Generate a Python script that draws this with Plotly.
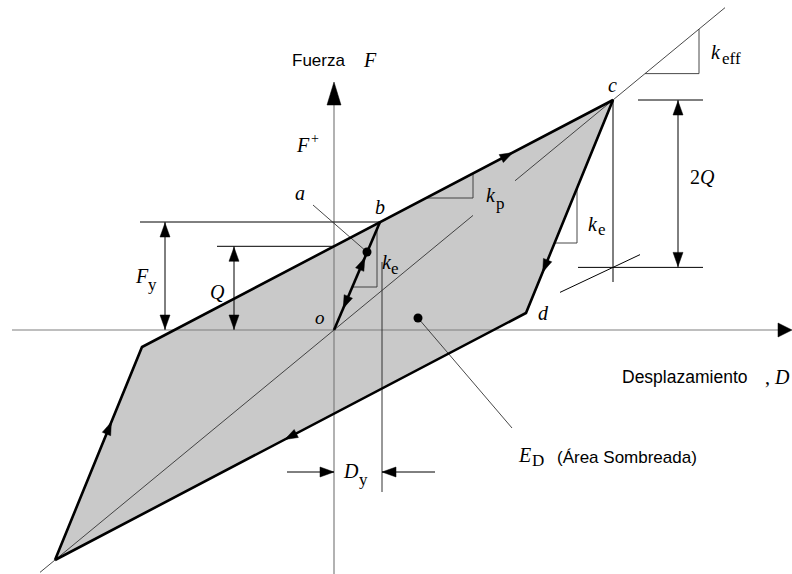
import numpy as np
import plotly.graph_objects as go

# ---- data: key points of the bilinear hysteresis loop (D, F); origin o = (0, 0)
point_names = ["o", "b", "c", "d"]
point_D = [0, 46, 279, 192]
point_F = [0, 108, 230, 17]

P = {n: (x, y) for n, x, y in zip(point_names, point_D, point_F)}
oD, oF = P["o"]
bD, bF = P["b"]
cD, cF = P["c"]
dD, dF = P["d"]

# loop path: -c -> -d -> c -> d -> -c
loop_D = [-cD, -dD, cD, dD, -cD]
loop_F = [-cF, -dF, cF, dF, -cF]

kp = (cF + dF) / (cD + dD)          # post-yield stiffness
ke_loop = (cF - dF) / (cD - dD)     # unloading stiffness
ke0 = bF / bD                       # initial stiffness
keff = cF / cD                      # effective stiffness
Q = -dF + dD * kp                   # characteristic strength
Fy = bF
Dy = bD

SERIF = "Liberation Serif"
SANS = "Liberation Sans"
fig = go.Figure()


def line(xs, ys, color="black", width=1.0):
    fig.add_trace(go.Scatter(x=list(xs), y=list(ys), mode="lines",
                             line=dict(color=color, width=width),
                             hoverinfo="skip", showlegend=False))


def head(tx, ty, ux, uy, L=13.0, W=4.5, color="black"):
    """filled arrowhead with tip at (tx,ty) pointing along (ux,uy)"""
    n = np.hypot(ux, uy)
    ux, uy = ux / n, uy / n
    bx, by = tx - ux * L, ty - uy * L
    px, py = -uy, ux
    fig.add_trace(go.Scatter(x=[tx, bx + px * W, bx - px * W, tx],
                             y=[ty, by + py * W, by - py * W, ty],
                             mode="lines", fill="toself", fillcolor=color,
                             line=dict(color=color, width=0.5),
                             hoverinfo="skip", showlegend=False))


def mid_head(x0, y0, x1, y1, t, L=13.0, W=4.5):
    ux, uy = x1 - x0, y1 - y0
    mx, my = x0 + ux * t, y0 + uy * t
    n = np.hypot(ux, uy)
    head(mx + ux / n * L / 2, my + uy / n * L / 2, ux, uy, L, W)


# ---- shaded loop area
fig.add_trace(go.Scatter(x=loop_D, y=loop_F, mode="lines", fill="toself",
                         fillcolor="#c9c9c9", line=dict(width=0),
                         hoverinfo="skip", showlegend=False))

# ---- axes
AX = "#7f7f7f"
line([-322, 446], [0, 0], AX, 1.2)
head(458, 0, 1, 0, L=14, W=7)
line([0, 0], [-244, 232], AX, 1.2)
head(0, 248, 0, 1, L=23, W=7)

# ---- effective stiffness line (with gap at k_p label)
line([-294, 139], [-294 * keff, 139 * keff], "#333333", 0.9)
line([181, 391], [181 * keff, 391 * keff], "#333333", 0.9)
# k_eff triangle
line([311, 365, 365], [311 * keff, 311 * keff, 365 * keff], "#333333", 0.9)

# ---- k_p triangle
yk = 132
xk = -dD + (yk + dF) / kp
line([xk, 139, 139], [yk, yk, -dF + (139 + dD) * kp], "#333333", 0.9)

# ---- k_e triangle at unloading branch
ye = 87
xe = cD - (cF - ye) / ke_loop
line([xe, 243, 243], [ye, ye, cF - (cD - 243) * ke_loop], "#333333", 0.9)

# ---- k_e triangle at initial branch
ys = 43
line([ys / ke0, 43, 43], [ys, ys, 43 * ke0], "#333333", 0.9)

# ---- F_y dimension
line([-dD - 2, bD], [Fy, Fy], "black", 1.0)
line([-169, -169], [0, Fy], "black", 1.0)
head(-169, Fy - 1, 0, 1, L=14, W=5)
head(-169, 1, 0, -1, L=14, W=5)

# ---- Q dimension
line([-117, 0], [Q, Q], "black", 1.0)
line([-100, -100], [0, Q], "black", 1.0)
head(-100, Q - 1, 0, 1, L=14, W=5)
head(-100, 1, 0, -1, L=14, W=5)

# ---- 2Q dimension
line([cD, cD], [cF, 48], "black", 1.0)
line([cD + 25, cD + 90], [cF, cF], "black", 1.0)
line([cD - 35, cD + 90], [cF - 2 * Q, cF - 2 * Q], "black", 1.0)
line([cD + 65, cD + 65], [cF - 2 * Q, cF], "black", 1.0)
head(cD + 65, cF - 1, 0, 1, L=14, W=5)
head(cD + 65, cF - 2 * Q + 1, 0, -1, L=14, W=5)
line([cD - 53, cD + 27], [cF - 2 * Q - 53 * kp * 0.9, cF - 2 * Q + 27 * kp * 0.9], "black", 1.0)

# ---- D_y dimension
line([Dy + 2, Dy + 2], [68, -162], "#333333", 1.0)
line([-47, 0], [-142, -142], "black", 1.0)
head(0, -142, 1, 0, L=14, W=5)
line([Dy + 55, Dy + 2], [-142, -142], "black", 1.0)
head(Dy + 2, -142, -1, 0, L=14, W=5)

# ---- leader lines
line([-21, 33], [125, 78], "#333333", 0.9)
line([84, 178], [12, -98], "#333333", 0.9)

# ---- loop edges (thick)
line(loop_D, loop_F, "black", 2.6)
line([oD, bD], [oF, bF], "black", 2.6)

# arrowheads along the loop
mid_head(-dD, -dF, cD, cF, 0.775)
mid_head(cD, cF, dD, dF, 0.78)
mid_head(dD, dF, -cD, -cF, 0.50)
mid_head(-cD, -cF, -dD, -dF, 0.62)
head(0.67 * bD, 0.67 * bF, bD, bF, L=13, W=4.5)       # loading o -> b
head(0.20 * bD, 0.20 * bF, -bD, -bF, L=13, W=4.5)     # unloading b -> o

# ---- dots
fig.add_trace(go.Scatter(x=[33, 84], y=[78, 12], mode="markers",
                         marker=dict(color="black", size=9),
                         hoverinfo="skip", showlegend=False))


# ---- text
def txt(x, y, s, size=20, family=SERIF, xanchor="center"):
    fig.add_annotation(x=x, y=y, xref="x", yref="y", text=s, showarrow=False,
                       xanchor=xanchor, yanchor="middle",
                       font=dict(family=family, size=size, color="black"))


def sym(x, y, main, sub, dx=8, dy=-7, size=20, subsize=17):
    txt(x, y, "<i>" + main + "</i>", size)
    if sub:
        txt(x + dx, y + dy, sub, subsize, SERIF, "left")


txt(-44, 270, "Fuerza", 17, SANS, "left")
txt(36, 270, "<i>F</i>", 20)
txt(-31, 185, "<i>F</i>", 20)
txt(-19, 192, "+", 14)
txt(-34, 137, "<i>a</i>", 20)
txt(46, 123, "<i>b</i>", 20)
txt(278, 245, "<i>c</i>", 20)
txt(209, 17, "<i>d</i>", 20)
txt(-14, 13, "<i>o</i>", 19)
sym(53, 68, "k", "e", dx=2, dy=-6)
sym(157, 135, "k", "p", dx=3, dy=-8)
sym(259, 106, "k", "e", dx=3, dy=-5)
sym(382, 278, "k", "eff", dx=4, dy=-6)
txt(368, 153, "2<i>Q</i>", 20)
sym(-192, 54, "F", "y", dx=4, dy=-8)
txt(-117, 38, "<i>Q</i>", 20)
sym(17, -141, "D", "y", dx=6, dy=-8)
sym(190, -125, "E", "D", dx=6, dy=-5)
txt(221, -127, "(Área Sombreada)", 17, SANS, "left")
txt(286, -47, "Desplazamiento", 17.5, SANS, "left")
txt(429, -47, ", <i>D</i>", 20, SERIF, "left")

fig.update_layout(width=792, height=574, margin=dict(l=0, r=0, t=0, b=0),
                  plot_bgcolor="white", paper_bgcolor="white", showlegend=False,
                  xaxis=dict(range=[-334, 458], visible=False, fixedrange=True),
                  yaxis=dict(range=[-244, 330], visible=False, fixedrange=True))

fig.write_html("out.html", config={"displayModeBar": False},
               post_script="document.body.style.margin='0px';")
